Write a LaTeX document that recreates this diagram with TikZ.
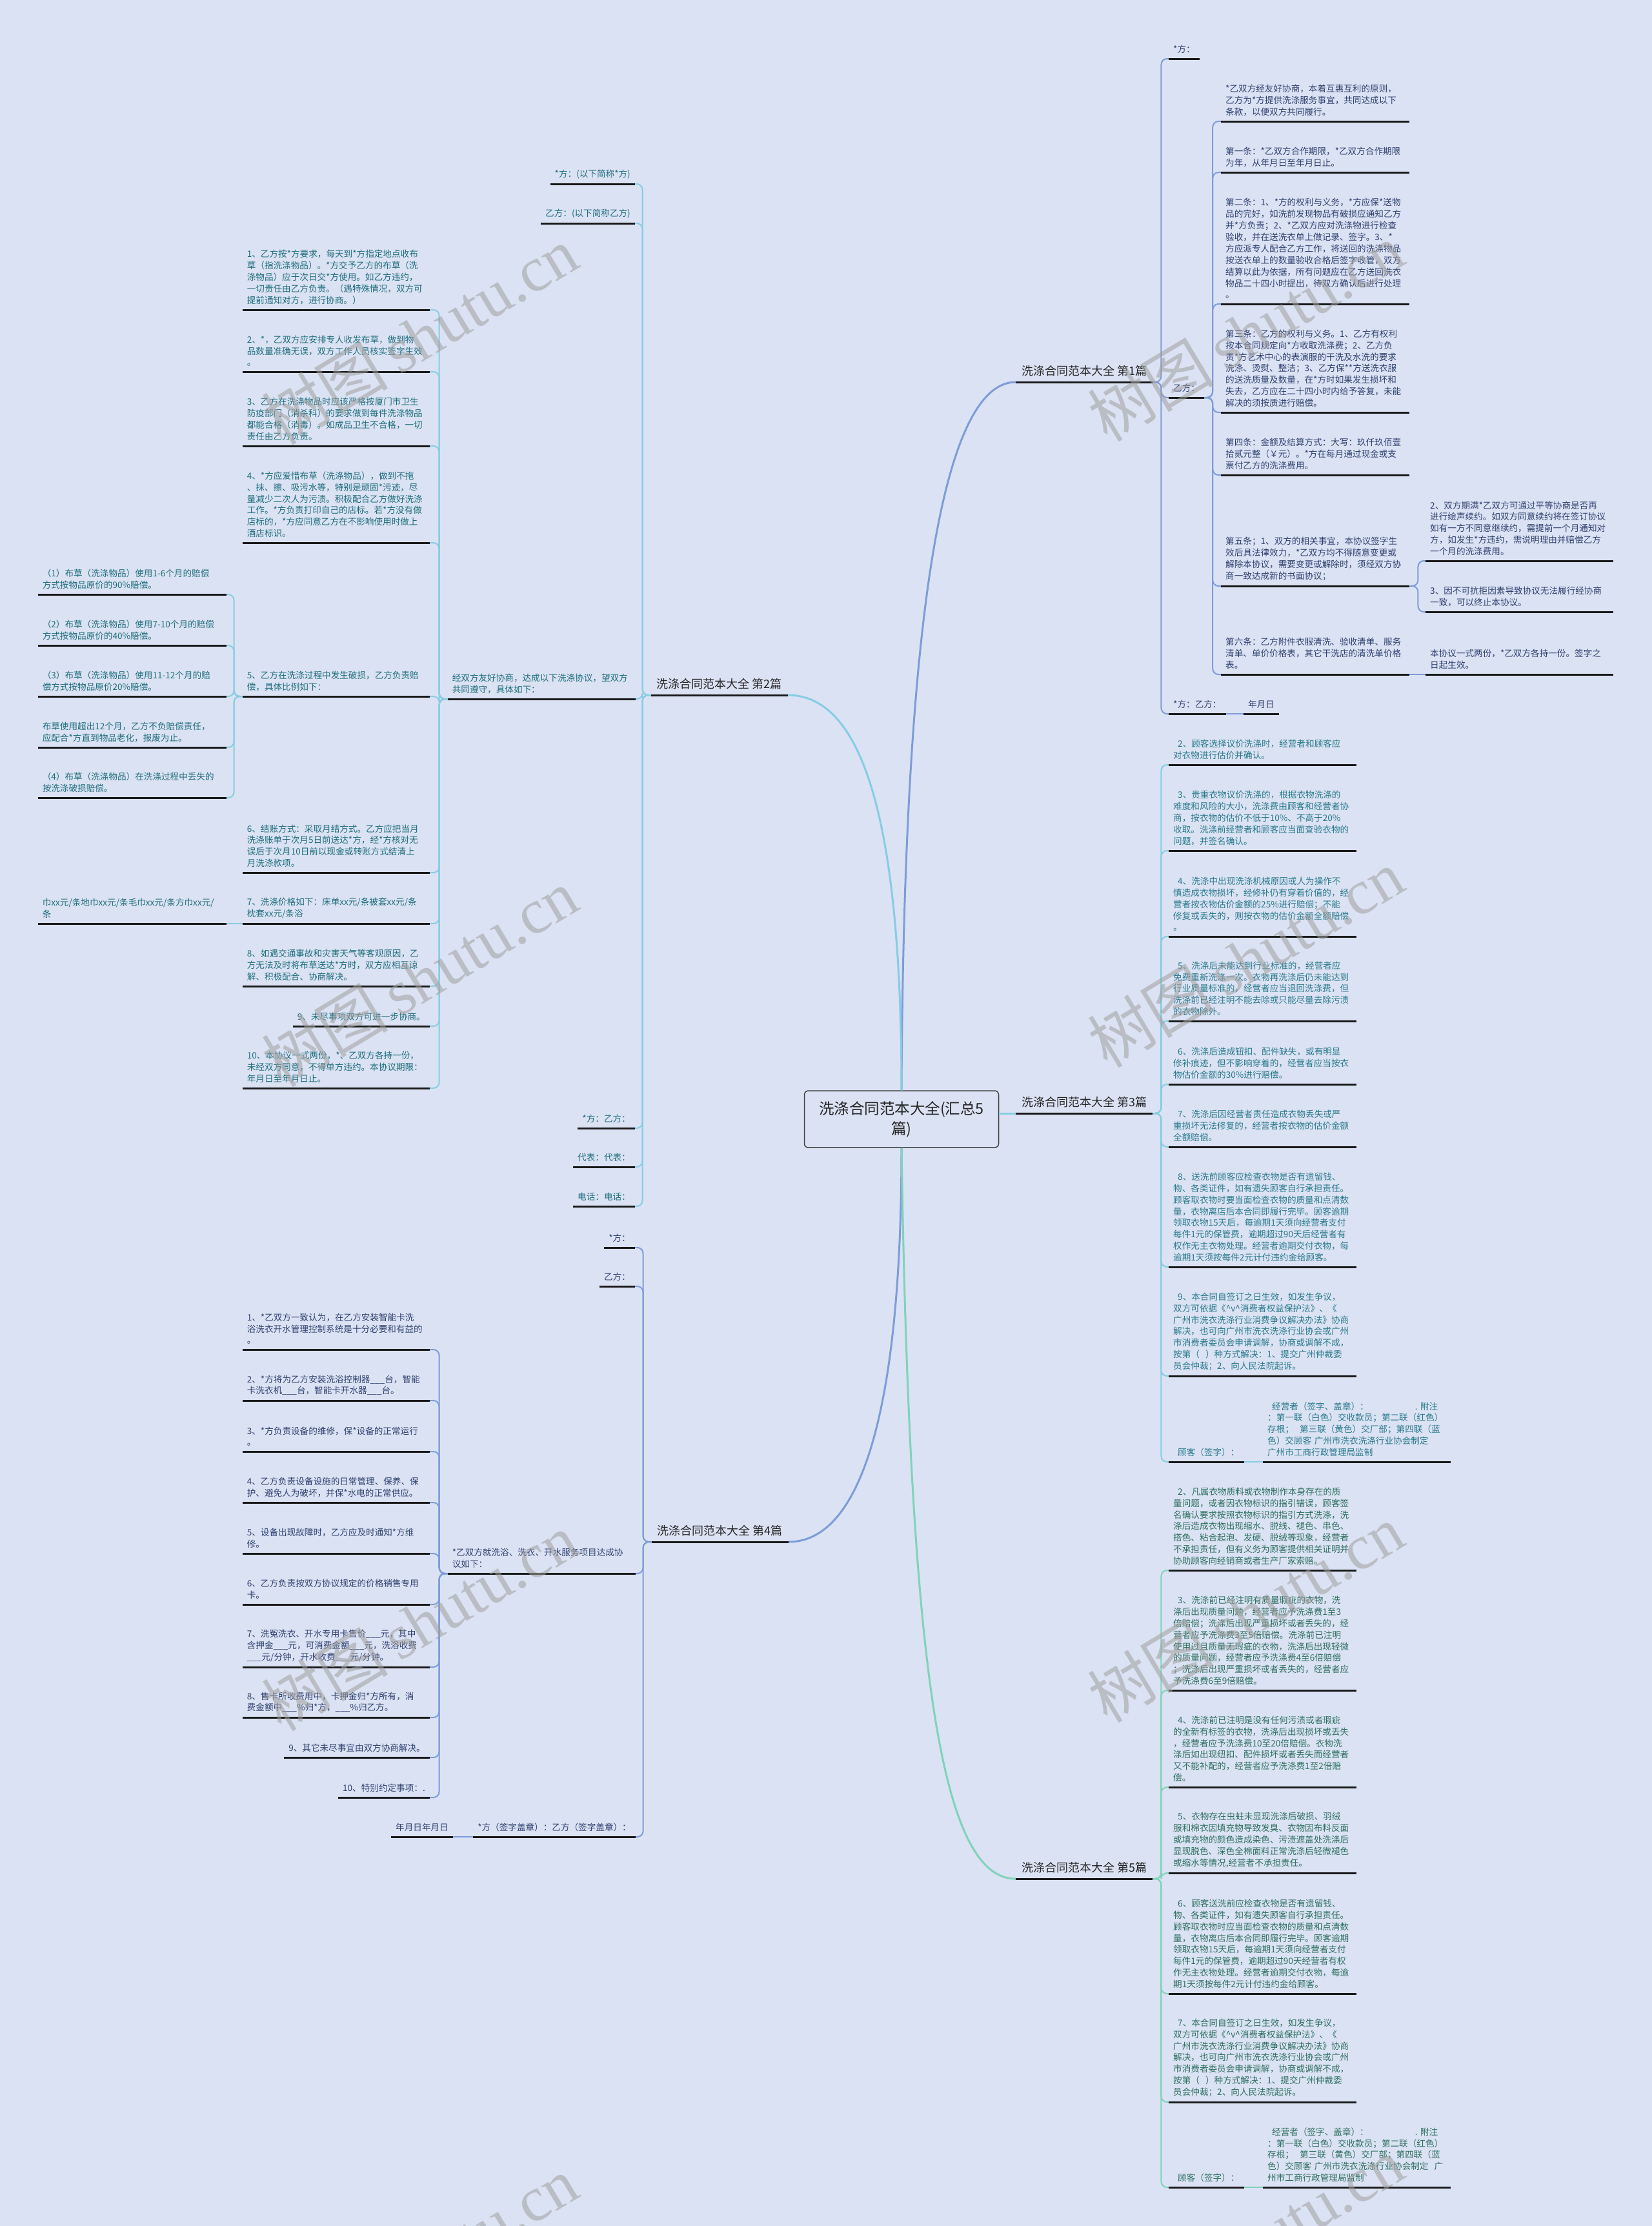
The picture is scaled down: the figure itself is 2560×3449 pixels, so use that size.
\documentclass[tikz,border=0pt]{standalone}
\usepackage{fontspec}
\setmainfont{Noto Sans CJK SC}
\newfontfamily\wmserif{Liberation Serif}
\definecolor{bg}{RGB}{219,226,243}
\definecolor{cA}{RGB}{125,156,217}
\definecolor{cB}{RGB}{134,205,227}
\definecolor{cC}{RGB}{128,211,185}
\definecolor{tA}{RGB}{47,65,112}
\definecolor{tB}{RGB}{30,110,125}
\definecolor{tC}{RGB}{40,122,140}
\definecolor{tD}{RGB}{45,112,95}
\newcommand\fs{\fontsize{13.6bp}{17.9bp}\selectfont}
\newcommand\labfs{\fontsize{18bp}{22bp}\selectfont}
\newcommand\rootfs{\fontsize{23.5bp}{31bp}\selectfont}
\newcommand\indt{\hspace*{7bp}}
\newcommand\car{\textasciicircum}
\newcommand\rlink[3]{\draw[lk,#1] (#2.south east) -- ++(13,0) |- (#3.south west);}
\newcommand\llink[3]{\draw[lk,#1] (#2.south west) -- ++(-13,0) |- (#3.south east);}
\tikzset{
  nd/.style={font=\fs, inner xsep=7bp, inner ysep=8bp, align=left},
  rn/.style={nd, anchor=south west},
  ln/.style={nd, anchor=south east},
  lab/.style={font=\labfs, text=black!85, inner xsep=9bp, inner ysep=9bp},
  ul/.style={line width=3bp, black!90},
  lk/.style={line width=2bp, rounded corners=9bp},
  mainlk/.style={line width=3bp},
  wm/.style={rotate=31, text=gray!75, opacity=0.55, inner sep=0pt}
}
\begin{document}
\begin{tikzpicture}[x=1bp,y=-1bp]
\useasboundingbox (0,0) rectangle (2560,3449);
\fill[bg] (0,0) rectangle (2560,3449);

% ---------- root ----------
\node[font=\rootfs, text=black!85, draw=black!75, line width=1.5bp, rounded corners=6bp,
      minimum width=301bp, minimum height=88bp, align=center, inner sep=0pt] (root) at (1397,1734)
      {洗涤合同范本大全(汇总5\\篇)};

% ---------- labels ----------
\node[lab, anchor=south west] (L1) at (1574,592) {洗涤合同范本大全 第1篇};
\node[lab, anchor=south east] (L2) at (1221,1077) {洗涤合同范本大全 第2篇};
\node[lab, anchor=south west] (L3) at (1574,1725) {洗涤合同范本大全 第3篇};
\node[lab, anchor=south east] (L4) at (1222,2389) {洗涤合同范本大全 第4篇};
\node[lab, anchor=south west] (L5) at (1574,2911) {洗涤合同范本大全 第5篇};

% ---------- 第1篇 ----------
\begin{scope}[every node/.append style={text=tA}]
\node[rn] (n1a) at (1811,91) {*方：};
\node[rn] (n1b) at (1811,616) {乙方：};
\node[rn] (n1c) at (1811,1106) {*方：乙方：};
\node[rn] (n1c2) at (1927,1106) {年月日};
\node[rn, text width=278bp] (n1b1) at (1892,188) {*乙双方经友好协商，本着互惠互利的原则，\\乙方为*方提供洗涤服务事宜，共同达成以下\\条款，以便双方共同履行。};
\node[rn, text width=278bp] (n1b2) at (1892,267) {第一条：*乙双方合作期限，*乙双方合作期限\\为年，从年月日至年月日止。};
\node[rn, text width=278bp] (n1b3) at (1892,471) {第二条：1、*方的权利与义务，*方应保*送物\\品的完好，如洗前发现物品有破损应通知乙方\\并*方负责；2、*乙双方应对洗涤物进行检查\\验收，并在送洗衣单上做记录、签字。3、*\\方应派专人配合乙方工作，将送回的洗涤物品\\按送衣单上的数量验收合格后签字收管，双方\\结算以此为依据，所有问题应在乙方送回洗衣\\物品二十四小时提出，待双方确认后进行处理\\。};
\node[rn, text width=278bp] (n1b4) at (1892,639) {第三条：乙方的权利与义务。1、乙方有权利\\按本合同规定向*方收取洗涤费；2、乙方负\\责*方艺术中心的表演服的干洗及水洗的要求\\洗涤、烫熨、整洁；3、乙方保**方送洗衣服\\的送洗质量及数量，在*方时如果发生损坏和\\失去，乙方应在二十四小时内给予答复，未能\\解决的须按质进行赔偿。};
\node[rn, text width=278bp] (n1b5) at (1892,736) {第四条：金额及结算方式：大写：玖仟玖佰壹\\拾贰元整（￥元）。*方在每月通过现金或支\\票付乙方的洗涤费用。};
\node[rn, text width=278bp] (n1b6) at (1892,908) {第五条；1、双方的相关事宜，本协议签字生\\效后具法律效力，*乙双方均不得随意变更或\\解除本协议，需要变更或解除时，须经双方协\\商一致达成新的书面协议；};
\node[rn, text width=277bp] (n1b6a) at (2209,869) {2、双方期满*乙双方可通过平等协商是否再\\进行绘声续约。如双方同意续约将在签订协议\\如有一方不同意继续约，需提前一个月通知对\\方，如发生*方违约，需说明理由并赔偿乙方\\一个月的洗涤费用。};
\node[rn, text width=277bp] (n1b6b) at (2209,948) {3、因不可抗拒因素导致协议无法履行经协商\\一致，可以终止本协议。};
\node[rn, text width=278bp] (n1b7) at (1892,1045) {第六条：乙方附件衣服清洗、验收清单、服务\\清单、单价价格表，其它干洗店的清洗单价格\\表。};
\node[rn, text width=277bp] (n1b7a) at (2209,1045) {本协议一式两份，*乙双方各持一份。签字之\\日起生效。};
\end{scope}

% ---------- 第3篇 ----------
\begin{scope}[every node/.append style={text=tC}]
\node[rn, text width=277bp] (n3a) at (1811,1185) {\indt 2、顾客选择议价洗涤时，经营者和顾客应\\对衣物进行估价并确认。};
\node[rn, text width=277bp] (n3b) at (1811,1318) {\indt 3、贵重衣物议价洗涤的，根据衣物洗涤的\\难度和风险的大小，洗涤费由顾客和经营者协\\商，按衣物的估价不低于10\%、不高于20\%\\收取。洗涤前经营者和顾客应当面查验衣物的\\问题，并签名确认。};
\node[rn, text width=277bp] (n3c) at (1811,1451) {\indt 4、洗涤中出现洗涤机械原因或人为操作不\\慎造成衣物损坏，经修补仍有穿着价值的，经\\营者按衣物估价金额的25\%进行赔偿；不能\\修复或丢失的，则按衣物的估价金额全额赔偿\\。};
\node[rn, text width=277bp] (n3d) at (1811,1582) {\indt 5、洗涤后未能达到行业标准的，经营者应\\免费重新洗涤一次。衣物再洗涤后仍未能达到\\行业质量标准的，经营者应当退回洗涤费，但\\洗涤前已经注明不能去除或只能尽量去除污渍\\的衣物除外。};
\node[rn, text width=277bp] (n3e) at (1811,1680) {\indt 6、洗涤后造成钮扣、配件缺失，或有明显\\修补痕迹，但不影响穿着的，经营者应当按衣\\物估价金额的30\%进行赔偿。};
\node[rn, text width=277bp] (n3f) at (1811,1777) {\indt 7、洗涤后因经营者责任造成衣物丢失或严\\重损坏无法修复的，经营者按衣物的估价金额\\全额赔偿。};
\node[rn, text width=277bp] (n3g) at (1811,1963) {\indt 8、送洗前顾客应检查衣物是否有遗留钱、\\物、各类证件，如有遗失顾客自行承担责任。\\顾客取衣物时要当面检查衣物的质量和点清数\\量，衣物离店后本合同即履行完毕。顾客逾期\\领取衣物15天后，每逾期1天须向经营者支付\\每件1元的保管费，逾期超过90天后经营者有\\权作无主衣物处理。经营者逾期交付衣物，每\\逾期1天须按每件2元计付违约金给顾客。};
\node[rn, text width=277bp] (n3h) at (1811,2132) {\indt 9、本合同自签订之日生效，如发生争议，\\双方可依据《\car v\car 消费者权益保护法》、《\\广州市洗衣洗涤行业消费争议解决办法》协商\\解决，也可向广州市洗衣洗涤行业协会或广州\\市消费者委员会申请调解，协商或调解不成，\\按第（~~）种方式解决：1、提交广州仲裁委\\员会仲裁；2、向人民法院起诉。};
\node[rn] (n3i) at (1811,2265) {\indt 顾客（签字）：};
\node[rn, text width=277bp] (n3ia) at (1957,2265) {\indt 经营者（签字、盖章）：\hspace*{72bp}.~附注\\：第一联（白色）交收款员；第二联（红色）\\存根；~~第三联（黄色）交厂部；第四联（蓝\\色）交顾客~广州市洗衣洗涤行业协会制定\\广州市工商行政管理局监制};
\end{scope}

% ---------- 第5篇 ----------
\begin{scope}[every node/.append style={text=tD}]
\node[rn, text width=277bp] (n5a) at (1811,2433) {\indt 2、凡属衣物质料或衣物制作本身存在的质\\量问题，或者因衣物标识的指引错误，顾客签\\名确认要求按照衣物标识的指引方式洗涤，洗\\涤后造成衣物出现缩水、脱线、褪色、串色、\\搭色、粘合起泡、发硬、脱绒等现象，经营者\\不承担责任，但有义务为顾客提供相关证明并\\协助顾客向经销商或者生产厂家索赔。};
\node[rn, text width=277bp] (n5b) at (1811,2619) {\indt 3、洗涤前已经注明有质量瑕疵的衣物，洗\\涤后出现质量问题，经营者应予洗涤费1至3\\倍赔偿；洗涤后出现严重损坏或者丢失的，经\\营者应予洗涤费3至5倍赔偿。洗涤前已注明\\使用过且质量无瑕疵的衣物，洗涤后出现轻微\\的质量问题，经营者应予洗涤费4至6倍赔偿\\；洗涤后出现严重损坏或者丢失的，经营者应\\予洗涤费6至9倍赔偿。};
\node[rn, text width=277bp] (n5c) at (1811,2769) {\indt 4、洗涤前已注明是没有任何污渍或者瑕疵\\的全新有标签的衣物，洗涤后出现损坏或丢失\\，经营者应予洗涤费10至20倍赔偿。衣物洗\\涤后如出现纽扣、配件损坏或者丢失而经营者\\又不能补配的，经营者应予洗涤费1至2倍赔\\偿。};
\node[rn, text width=277bp] (n5d) at (1811,2902) {\indt 5、衣物存在虫蛀未显现洗涤后破损、羽绒\\服和棉衣因填充物导致发臭、衣物因布料反面\\或填充物的颜色造成染色、污渍遮盖处洗涤后\\显现脱色、深色全棉面料正常洗涤后轻微褪色\\或缩水等情况,经营者不承担责任。};
\node[rn, text width=277bp] (n5e) at (1811,3089) {\indt 6、顾客送洗前应检查衣物是否有遗留钱、\\物、各类证件，如有遗失顾客自行承担责任。\\顾客取衣物时应当面检查衣物的质量和点清数\\量，衣物离店后本合同即履行完毕。顾客逾期\\领取衣物15天后，每逾期1天须向经营者支付\\每件1元的保管费，逾期超过90天经营者有权\\作无主衣物处理。经营者逾期交付衣物，每逾\\期1天须按每件2元计付违约金给顾客。};
\node[rn, text width=277bp] (n5f) at (1811,3257) {\indt 7、本合同自签订之日生效，如发生争议，\\双方可依据《\car v\car 消费者权益保护法》、《\\广州市洗衣洗涤行业消费争议解决办法》协商\\解决，也可向广州市洗衣洗涤行业协会或广州\\市消费者委员会申请调解，协商或调解不成，\\按第（~~）种方式解决：1、提交广州仲裁委\\员会仲裁；2、向人民法院起诉。};
\node[rn] (n5g) at (1811,3389) {\indt 顾客（签字）：};
\node[rn, text width=277bp] (n5ga) at (1957,3389) {\indt 经营者（签字、盖章）：\hspace*{72bp}.~附注\\：第一联（白色）交收款员；第二联（红色）\\存根；~~第三联（黄色）交厂部；第四联（蓝\\色）交顾客~广州市洗衣洗涤行业协会制定~~广\\州市工商行政管理局监制};
\end{scope}

% ---------- 第2篇 ----------
\begin{scope}[every node/.append style={text=tB}]
\node[ln] (n2a) at (984,285) {*方：(以下简称*方)};
\node[ln] (n2b) at (984,346) {乙方：(以下简称乙方)};
\node[ln, text width=277bp] (n2c) at (985,1083) {经双方友好协商，达成以下洗涤协议，望双方\\共同遵守，具体如下：};
\node[ln] (n2d) at (984,1748) {*方：乙方：};
\node[ln] (n2e) at (984,1808) {代表：代表：};
\node[ln] (n2f) at (984,1869) {电话：电话：};
\node[ln, text width=276bp] (n2c1) at (666,480) {1、乙方按*方要求，每天到*方指定地点收布\\草（指洗涤物品）。*方交予乙方的布草（洗\\涤物品）应于次日交*方使用。如乙方违约，\\一切责任由乙方负责。（遇特殊情况，双方可\\提前通知对方，进行协商。）};
\node[ln, text width=276bp] (n2c2) at (666,576) {2、*，乙双方应安排专人收发布草，做到物\\品数量准确无误，双方工作人员核实签字生效\\。};
\node[ln, text width=276bp] (n2c3) at (666,691) {3、乙方在洗涤物品时应该严格按厦门市卫生\\防疫部门（消杀科）的要求做到每件洗涤物品\\都能合格（消毒）。如成品卫生不合格，一切\\责任由乙方负责。};
\node[ln, text width=276bp] (n2c4) at (666,841) {4、*方应爱惜布草（洗涤物品），做到不拖\\、抹、擦、吸污水等，特别是顽固*污迹，尽\\量减少二次人为污渍。积极配合乙方做好洗涤\\工作。*方负责打印自己的店标。若*方没有做\\店标的，*方应同意乙方在不影响使用时做上\\酒店标识。};
\node[ln, text width=276bp] (n2c5) at (666,1079) {5、乙方在洗涤过程中发生破损，乙方负责赔\\偿，具体比例如下：};
\node[ln, text width=278bp] (n2c5a) at (351,921) {（1）布草（洗涤物品）使用1-6个月的赔偿\\方式按物品原价的90\%赔偿。};
\node[ln, text width=278bp] (n2c5b) at (351,1000) {（2）布草（洗涤物品）使用7-10个月的赔偿\\方式按物品原价的40\%赔偿。};
\node[ln, text width=278bp] (n2c5c) at (351,1079) {（3）布草（洗涤物品）使用11-12个月的赔\\偿方式按物品原价20\%赔偿。};
\node[ln, text width=278bp] (n2c5d) at (351,1158) {布草使用超出12个月，乙方不负赔偿责任，\\应配合*方直到物品老化，报废为止。};
\node[ln, text width=278bp] (n2c5e) at (351,1236) {（4）布草（洗涤物品）在洗涤过程中丢失的\\按洗涤破损赔偿。};
\node[ln, text width=276bp] (n2c6) at (666,1352) {6、结账方式：采取月结方式。乙方应把当月\\洗涤账单于次月5日前送达*方，经*方核对无\\误后于次月10日前以现金或转账方式结清上\\月洗涤款项。};
\node[ln, text width=276bp] (n2c7) at (666,1431) {7、洗涤价格如下：床单xx元/条被套xx元/条\\枕套xx元/条浴};
\node[ln, text width=278bp] (n2c7a) at (351,1431) {巾xx元/条地巾xx元/条毛巾xx元/条方巾xx元/\\条};
\node[ln, text width=276bp] (n2c8) at (666,1528) {8、如遇交通事故和灾害天气等客观原因，乙\\方无法及时将布草送达*方时，双方应相互谅\\解、积极配合、协商解决。};
\node[ln] (n2c9) at (666,1590) {9、未尽事项双方可进一步协商。};
\node[ln, text width=276bp] (n2c10) at (666,1686) {10、本协议一式两份，*、乙双方各持一份，\\未经双方同意，不得单方违约。本协议期限：\\年月日至年月日止。};
\end{scope}

% ---------- 第4篇 ----------
\begin{scope}[every node/.append style={text=tA}]
\node[ln] (n4a) at (984,1933) {*方：};
\node[ln] (n4b) at (984,1993) {乙方：};
\node[ln, text width=277bp] (n4c) at (985,2438) {*乙双方就洗浴、洗衣、开水服务项目达成协\\议如下：};
\node[ln] (n4d) at (985,2846) {*方（签字盖章）：乙方（签字盖章）：};
\node[ln] (n4d1) at (702,2846) {年月日年月日};
\node[ln, text width=276bp] (n4c1) at (666,2091) {1、*乙双方一致认为，在乙方安装智能卡洗\\浴洗衣开水管理控制系统是十分必要和有益的\\。};
\node[ln, text width=276bp] (n4c2) at (666,2170) {2、*方将为乙方安装洗浴控制器\_\_\_台，智能\\卡洗衣机\_\_\_台，智能卡开水器\_\_\_台。};
\node[ln, text width=276bp] (n4c3) at (666,2249) {3、*方负责设备的维修，保*设备的正常运行\\。};
\node[ln, text width=276bp] (n4c4) at (666,2328) {4、乙方负责设备设施的日常管理、保养、保\\护、避免人为破坏，并保*水电的正常供应。};
\node[ln, text width=276bp] (n4c5) at (666,2407) {5、设备出现故障时，乙方应及时通知*方维\\修。};
\node[ln, text width=276bp] (n4c6) at (666,2486) {6、乙方负责按双方协议规定的价格销售专用\\卡。};
\node[ln, text width=276bp] (n4c7) at (666,2583) {7、洗冤洗衣、开水专用卡售价\_\_\_元，其中\\含押金\_\_\_元，可消费金额\_\_\_元，洗浴收费\\\_\_\_元/分钟，开水收费\_\_\_元/分钟。};
\node[ln, text width=276bp] (n4c8) at (666,2661) {8、售卡所收费用中，卡押金归*方所有，消\\费金额中\_\_\_\%归*方，\_\_\_\%归乙方。};
\node[ln] (n4c9) at (666,2723) {9、其它未尽事宜由双方协商解决。};
\node[ln] (n4c10) at (666,2785) {10、特别约定事项：.};
\end{scope}

% ---------- main connectors ----------
\draw[mainlk, cA] (root.north) .. controls (1400,1100) and (1440,592) .. (L1.south west);
\draw[mainlk, cB] (root.north) .. controls (1397,1250) and (1330,1077) .. (L2.south east);
\draw[mainlk, cB] (root.east |- L3.south west) -- (L3.south west);
\draw[mainlk, cA] (root.south) .. controls (1397,2200) and (1330,2389) .. (L4.south east);
\draw[mainlk, cC] (root.south) .. controls (1410,2600) and (1460,2911) .. (L5.south west);

% ---------- sub connectors ----------
\foreach \c in {n1a,n1b,n1c} {\rlink{cA}{L1}{\c}}
\draw[lk,cA] (n1c.south east) -- (n1c2.south west);
\foreach \c in {n1b1,n1b2,n1b3,n1b4,n1b5,n1b6,n1b7} {\rlink{cA}{n1b}{\c}}
\foreach \c in {n1b6a,n1b6b} {\rlink{cA}{n1b6}{\c}}
\draw[lk,cA] (n1b7.south east) -- (n1b7a.south west);

\foreach \c in {n3a,n3b,n3c,n3d,n3e,n3f,n3g,n3h,n3i} {\rlink{cB}{L3}{\c}}
\draw[lk,cB] (n3i.south east) -- (n3ia.south west);

\foreach \c in {n5a,n5b,n5c,n5d,n5e,n5f,n5g} {\rlink{cC}{L5}{\c}}
\draw[lk,cC] (n5g.south east) -- (n5ga.south west);

\foreach \c in {n2a,n2b,n2c,n2d,n2e,n2f} {\llink{cB}{L2}{\c}}
\foreach \c in {n2c1,n2c2,n2c3,n2c4,n2c5,n2c6,n2c7,n2c8,n2c9,n2c10} {\llink{cB}{n2c}{\c}}
\foreach \c in {n2c5a,n2c5b,n2c5c,n2c5d,n2c5e} {\llink{cB}{n2c5}{\c}}
\draw[lk,cB] (n2c7.south west) -- (n2c7a.south east);

\foreach \c in {n4a,n4b,n4c,n4d} {\llink{cA}{L4}{\c}}
\foreach \c in {n4c1,n4c2,n4c3,n4c4,n4c5,n4c6,n4c7,n4c8,n4c9,n4c10} {\llink{cA}{n4c}{\c}}
\draw[lk,cA] (n4d.south west) -- (n4d1.south east);

% ---------- underlines ----------
\foreach \n in {L1,L2,L3,L4,L5,
  n1a,n1b,n1c,n1c2,n1b1,n1b2,n1b3,n1b4,n1b5,n1b6,n1b6a,n1b6b,n1b7,n1b7a,
  n3a,n3b,n3c,n3d,n3e,n3f,n3g,n3h,n3i,n3ia,
  n5a,n5b,n5c,n5d,n5e,n5f,n5g,n5ga,
  n2a,n2b,n2c,n2d,n2e,n2f,n2c1,n2c2,n2c3,n2c4,n2c5,n2c5a,n2c5b,n2c5c,n2c5d,n2c5e,n2c6,n2c7,n2c7a,n2c8,n2c9,n2c10,
  n4a,n4b,n4c,n4d,n4d1,n4c1,n4c2,n4c3,n4c4,n4c5,n4c6,n4c7,n4c8,n4c9,n4c10}
  {\draw[ul] (\n.south west) -- (\n.south east);}

% ---------- watermarks ----------
\foreach \i/\x/\y in {1/650/520, 2/650/1515, 3/650/2513, 4/650/3510, 5/1930/515, 6/1930/1485, 7/1930/2500, 8/1930/3480}
  {\node[wm] (wm\i) at (\x,\y) {\fontsize{98bp}{98bp}\selectfont 树图\hspace{18bp}{\wmserif shutu.cn}};}
\end{tikzpicture}
\end{document}
